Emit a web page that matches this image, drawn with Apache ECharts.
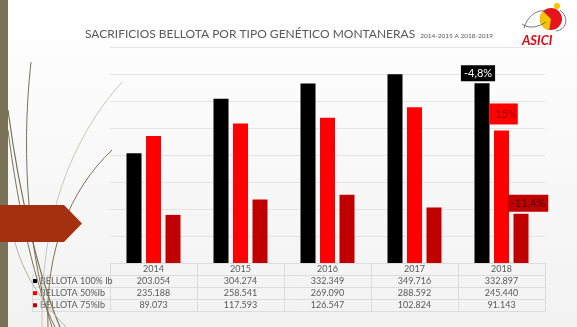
<!DOCTYPE html>
<html>
<head>
<meta charset="utf-8">
<script src="https://cdn.jsdelivr.net/npm/echarts@6/dist/echarts.min.js"></script>
<style>
  html, body { margin: 0; padding: 0; background: #ffffff; }
  #chart { width: 577px; height: 327px; }
</style>
</head>
<body>
<div id="chart"></div>
<script>
// Campaign years (montaneras 2014-2015 ... 2018-2019)
const years = ['2014', '2015', '2016', '2017', '2018'];
// Series names as shown in the data table
const seriesNames = ['BELLOTA 100% Ib', 'BELLOTA 50%Ib', 'BELLOTA 75%Ib'];
// Animals slaughtered per genetic type
const bellota100 = [203054, 304274, 332349, 349716, 332897];
const bellota50 = [235188, 258541, 269090, 288592, 245440];
const bellota75 = [89073, 117593, 126547, 102824, 91143];
// Change labels for the last campaign
const lastChange = ['-4,8%', '15%', '-11,4%'];

const seriesColors = ['#000000', '#ff0000', '#c00000'];
const allValues = [bellota100, bellota50, bellota75];

const FONT = 'Lato, "Open Sans", sans-serif';
const GRAY = '#595959';
const ROW_H = 12.1;

function fmt(n) {
  return String(n).replace(/\B(?=(\d{3})+(?!\d))/g, '.');
}

const chart = echarts.init(document.getElementById('chart'), null, { renderer: 'canvas' });

const labelStyles = [
  { backgroundColor: '#000000', color: '#ffffff', padding: [3, 3, 2, 3], offset: [-4, 0], distance: 2 },
  { backgroundColor: '#ff0000', color: '#9a0000', padding: [5, 1, 5, 6], offset: [2, 0], distance: 6 },
  { backgroundColor: '#c00000', color: '#4a0000', padding: [3, 3, 3, 3], offset: [7, 0], distance: 2 }
];

const series = allValues.map((vals, s) => ({
  name: seriesNames[s],
  type: 'bar',
  barWidth: 15,
  barGap: '30%',
  itemStyle: { color: seriesColors[s] },
  data: vals.map((v, i) => {
    if (i !== vals.length - 1) return v;
    const ls = labelStyles[s];
    return {
      value: v,
      label: {
        show: true,
        position: 'top',
        formatter: lastChange[s],
        fontFamily: FONT,
        fontSize: 11,
        color: ls.color,
        backgroundColor: ls.backgroundColor,
        padding: ls.padding,
        offset: ls.offset,
        distance: ls.distance
      }
    };
  })
}));

const option = {
  animation: false,
  backgroundColor: {
    type: 'linear', x: 0, y: 0, x2: 0, y2: 1,
    colorStops: [
      { offset: 0, color: '#ffffff' },
      { offset: 1, color: '#f2f2f2' }
    ]
  },
  title: {
    text: '{m|SACRIFICIOS BELLOTA POR TIPO GENÉTICO MONTANERAS} {s|2014-2015 A 2018-2019}',
    left: 85,
    top: 25,
    padding: 0,
    textStyle: {
      rich: {
        m: { fontFamily: FONT, fontSize: 12, fontWeight: 'normal', color: GRAY },
        s: { fontFamily: FONT, fontSize: 6.5, fontWeight: 'normal', color: GRAY, padding: [3, 0, 0, 0] }
      }
    }
  },
  legend: {
    orient: 'vertical',
    left: 33,
    top: Math.round(263 + ROW_H),
    padding: 0,
    itemWidth: 4,
    itemHeight: 4,
    itemGap: 0,
    icon: 'rect',
    data: seriesNames,
    selectedMode: false,
    textStyle: { fontFamily: FONT, fontSize: 9, color: GRAY, lineHeight: ROW_H, padding: [0, 0, 0, -2] }
  },
  grid: { left: 110, right: 32, top: 47, bottom: 64 },
  xAxis: {
    type: 'category',
    data: years,
    axisLine: { show: true, lineStyle: { color: '#dcdcdc' } },
    axisTick: { show: false },
    axisLabel: {
      margin: 0,
      interval: 0,
      formatter: (val, idx) =>
        `{y|${val}}\n{v|${fmt(bellota100[idx])}}\n{v|${fmt(bellota50[idx])}}\n{v|${fmt(bellota75[idx])}}`,
      rich: {
        y: { fontFamily: FONT, fontSize: 9, color: GRAY, lineHeight: ROW_H },
        v: { fontFamily: FONT, fontSize: 9, color: GRAY, lineHeight: ROW_H }
      }
    }
  },
  yAxis: {
    type: 'value',
    min: 0,
    max: 400000,
    interval: 50000,
    axisLine: { show: false },
    axisTick: { show: false },
    axisLabel: { show: false },
    splitLine: { lineStyle: { color: '#e4e4e4' } }
  },
  series: series
};

chart.setOption(option);

// Data-table borders, aligned to the category bands of the x axis
function tableGraphics() {
  const n = years.length;
  const c0 = chart.convertToPixel({ xAxisIndex: 0 }, 0);
  const c1 = chart.convertToPixel({ xAxisIndex: 0 }, 1);
  const band = c1 - c0;
  const left = c0 - band / 2;
  const right = left + band * n;
  const yTop = chart.convertToPixel({ yAxisIndex: 0 }, 0);
  const tableLeft = 32;
  const line = '#dcdcdc';
  const els = [];
  for (let r = 1; r <= 4; r++) {
    const y = Math.round(yTop + r * ROW_H) + 0.5;
    els.push({ type: 'line', shape: { x1: tableLeft, y1: y, x2: right, y2: y }, style: { stroke: line, lineWidth: 1 }, z: 1 });
  }
  for (let i = 0; i <= n; i++) {
    const x = Math.round(left + i * band) + 0.5;
    els.push({ type: 'line', shape: { x1: x, y1: yTop, x2: x, y2: yTop + 4 * ROW_H }, style: { stroke: line, lineWidth: 1 }, z: 1 });
  }
  const xl = tableLeft + 0.5;
  els.push({ type: 'line', shape: { x1: xl, y1: yTop + ROW_H, x2: xl, y2: yTop + 4 * ROW_H }, style: { stroke: line, lineWidth: 1 }, z: 1 });
  return els;
}

// Slide decoration: side band, curved strokes, arrow tab and logo
const olive = '#7a7256';
const deco = [
  { type: 'rect', shape: { x: 0, y: 0, width: 8, height: 327 }, style: { fill: olive }, z: 5 },
  { type: 'bezierCurve', shape: { x1: 31, y1: 62, cpx1: 20, cpy1: 160, cpx2: 30, cpy2: 260, x2: 52, y2: 327 }, style: { stroke: olive, lineWidth: 1, fill: null }, z: 6 },
  { type: 'bezierCurve', shape: { x1: 8, y1: 110, cpx1: 20, cpy1: 200, cpx2: 40, cpy2: 280, x2: 60, y2: 327 }, style: { stroke: olive, lineWidth: 1.2, fill: null }, z: 6 },
  { type: 'bezierCurve', shape: { x1: 8, y1: 130, cpx1: 18, cpy1: 210, cpx2: 36, cpy2: 290, x2: 55, y2: 327 }, style: { stroke: olive, lineWidth: 1, fill: null }, z: 6 },
  { type: 'bezierCurve', shape: { x1: 112, y1: 150, cpx1: 70, cpy1: 190, cpx2: 45, cpy2: 250, x2: 48, y2: 327 }, style: { stroke: olive, lineWidth: 1, fill: null }, z: 6 },
  { type: 'bezierCurve', shape: { x1: 122, y1: 82, cpx1: 70, cpy1: 140, cpx2: 40, cpy2: 220, x2: 42, y2: 327 }, style: { stroke: '#c8c6bd', lineWidth: 1, fill: null }, z: 6 },
  { type: 'bezierCurve', shape: { x1: 12, y1: 230, cpx1: 20, cpy1: 270, cpx2: 40, cpy2: 300, x2: 66, y2: 327 }, style: { stroke: '#b5b2a4', lineWidth: 1, fill: null }, z: 6 },
  { type: 'polygon', shape: { points: [[0, 205], [64, 205], [82, 223.5], [64, 242], [0, 242]] }, style: { fill: '#a5300f' }, z: 7 },
  // logo
  { type: 'circle', shape: { cx: 551, cy: 19, r: 11 }, style: { fill: '#e8141c' }, z: 5 },
  { type: 'sector', shape: { cx: 551, cy: 19, r: 11, r0: 0, startAngle: Math.PI * 0.55, endAngle: Math.PI * 1.25 }, style: { fill: '#f7c400' }, z: 6 },
  { type: 'circle', shape: { cx: 557, cy: 6, r: 3 }, style: { fill: '#f7c400' }, z: 6 },
  { type: 'bezierCurve', shape: { x1: 524, y1: 28, cpx1: 528, cpy1: 14, cpx2: 540, cpy2: 8, x2: 548, y2: 12 }, style: { stroke: '#555', lineWidth: 0.8, fill: null }, z: 6 },
  { type: 'bezierCurve', shape: { x1: 522, y1: 24, cpx1: 530, cpy1: 30, cpx2: 540, cpy2: 26, x2: 546, y2: 22 }, style: { stroke: '#555', lineWidth: 0.8, fill: null }, z: 6 },
  { type: 'bezierCurve', shape: { x1: 560, y1: 10, cpx1: 570, cpy1: 18, cpx2: 566, cpy2: 30, x2: 556, y2: 31 }, style: { stroke: '#555', lineWidth: 0.8, fill: null }, z: 6 },
  { type: 'text', style: { x: 522, y: 34, text: 'ASICI', fill: '#e30613', font: 'italic bold 13px Lato, sans-serif' }, z: 6 }
];

chart.setOption({ graphic: { elements: tableGraphics().concat(deco) } });
</script>
</body>
</html>
